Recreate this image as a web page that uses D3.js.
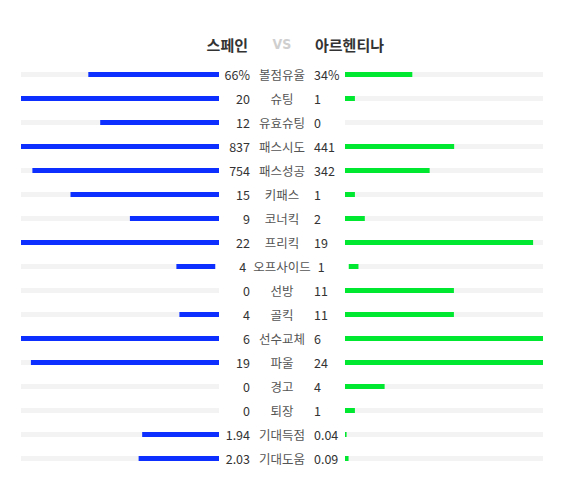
<!DOCTYPE html>
<html>
<head>
<meta charset="utf-8">
<script src="https://cdn.jsdelivr.net/npm/d3@7"></script>
<style>
  html, body { margin: 0; padding: 0; background: #fff; }
  svg { display: block; }
  text { font-family: "Noto Sans CJK KR", "Noto Sans", sans-serif; }
</style>
</head>
<body>
<svg id="chart" width="573" height="487"></svg>
<script>
const homeTeam = "스페인";
const awayTeam = "아르헨티나";
const labels = ["볼점유율","슈팅","유효슈팅","패스시도","패스성공","키패스","코너킥","프리킥","오프사이드","선방","골킥","선수교체","파울","경고","퇴장","기대득점","기대도움"];
const homeValues = [66, 20, 12, 837, 754, 15, 9, 22, 4, 0, 4, 6, 19, 0, 0, 1.94, 2.03];
const awayValues = [34, 1, 0, 441, 342, 1, 2, 19, 1, 11, 11, 6, 24, 4, 1, 0.04, 0.09];
const homeText = ["66%","20","12","837","754","15","9","22","4","0","4","6","19","0","0","1.94","2.03"];
const awayText = ["34%","1","0","441","342","1","2","19","1","11","11","6","24","4","1","0.04","0.09"];
const maxValues = [100, 20, 20, 800, 800, 20, 20, 20, 20, 20, 20, 6, 20, 20, 20, 5, 5];

const svg = d3.select("#chart");
const cx = 282;
const left = 21, right = 543;
const gap = 31;

// title
svg.append("text").attr("x", 248).attr("y", 44).attr("text-anchor", "end")
  .attr("dominant-baseline", "central").attr("font-size", 15).attr("font-weight", 700)
  .attr("fill", "#333").text(homeTeam);
svg.append("text").attr("x", cx).attr("y", 44).attr("text-anchor", "middle")
  .attr("dominant-baseline", "central").attr("font-size", 14).attr("font-weight", 700)
  .attr("fill", "#cfcfcf")
  .style("font-family", "'Liberation Sans Narrow', 'DejaVu Sans Condensed', sans-serif")
  .text("VS");
svg.append("text").attr("x", 315).attr("y", 44).attr("text-anchor", "start")
  .attr("dominant-baseline", "central").attr("font-size", 15).attr("font-weight", 700)
  .attr("fill", "#333").text(awayTeam);

const y = d3.scalePoint().domain(d3.range(labels.length)).range([74.5, 458.5]);

labels.forEach((lab, i) => {
  const yy = y(i);
  const g = svg.append("g");
  const lt = g.append("text").attr("x", cx).attr("y", yy).attr("text-anchor", "middle")
    .attr("dominant-baseline", "central").attr("font-size", 12.5).attr("fill", "#555").text(lab);
  const tw = lt.node().getComputedTextLength();
  const cell = Math.max(64, tw + 14);
  const le = cx - cell / 2, re = cx + cell / 2;
  g.append("text").attr("x", le).attr("y", yy).attr("text-anchor", "end")
    .attr("dominant-baseline", "central").attr("font-size", 12.5).attr("fill", "#333").text(homeText[i]);
  g.append("text").attr("x", re).attr("y", yy).attr("text-anchor", "start")
    .attr("dominant-baseline", "central").attr("font-size", 12.5).attr("fill", "#333").text(awayText[i]);

  const lEnd = le - gap, rStart = re + gap;
  const xl = d3.scaleLinear().domain([0, maxValues[i]]).range([lEnd, left]).clamp(true);
  const xr = d3.scaleLinear().domain([0, maxValues[i]]).range([rStart, right]).clamp(true);
  const h = 5;
  g.append("rect").attr("x", left).attr("y", yy - h / 2).attr("width", lEnd - left).attr("height", h).attr("fill", "#f3f3f3");
  g.append("rect").attr("x", rStart).attr("y", yy - h / 2).attr("width", right - rStart).attr("height", h).attr("fill", "#f3f3f3");
  g.append("rect").attr("x", xl(homeValues[i])).attr("y", yy - h / 2)
    .attr("width", lEnd - xl(homeValues[i])).attr("height", h).attr("fill", "#0d2fff");
  g.append("rect").attr("x", rStart).attr("y", yy - h / 2)
    .attr("width", xr(awayValues[i]) - rStart).attr("height", h).attr("fill", "#00e82f");
});
</script>
</body>
</html>
